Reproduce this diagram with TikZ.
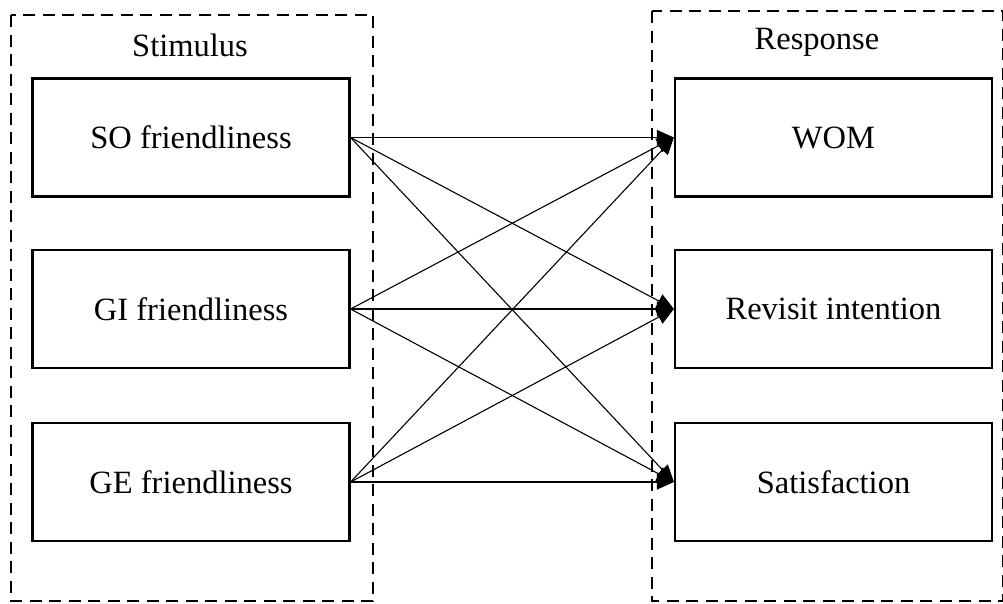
\documentclass[tikz,border=0pt]{standalone}
\usepackage{fontspec}
\setmainfont{Liberation Serif}
\usetikzlibrary{arrows.meta}
\begin{document}
\begin{tikzpicture}[x=1pt,y=-1pt,
  groupbox/.style={draw,line width=2.8pt,dash pattern=on 12pt off 7.5pt},
  varbox/.style={draw,line width=2.2pt,minimum width=317pt,minimum height=118pt,inner sep=0pt,font=\fontsize{32.5}{38}\selectfont},
  title/.style={font=\fontsize{32.5}{38}\selectfont,inner sep=0pt},
  link/.style={line width=1.1pt,-{Triangle[length=17pt,width=15pt]}}]
\useasboundingbox (0,0) rectangle (1003,603);
\draw[groupbox] (11,15) rectangle (373,601);
\draw[groupbox] (652,11) rectangle (1003,601);
\node[title] (stim) at (190,45) {Stimulus};
\node[title] (resp) at (817,42) {Response};
\node[varbox] (so) at (191,137.5) {SO friendliness};
\node[varbox] (gi) at (191,309) {GI friendliness};
\node[varbox] (ge) at (191,482) {GE friendliness};
\node[varbox] (wom) at (833.5,137.5) {WOM};
\node[varbox] (rev) at (833.5,309) {Revisit intention};
\node[varbox] (sat) at (833.5,482) {Satisfaction};
\foreach \s in {so,gi,ge}{
  \foreach \t in {wom,rev,sat}{
    \draw[link] (\s.east) -- (\t.west);
  }
}
\end{tikzpicture}
\end{document}
